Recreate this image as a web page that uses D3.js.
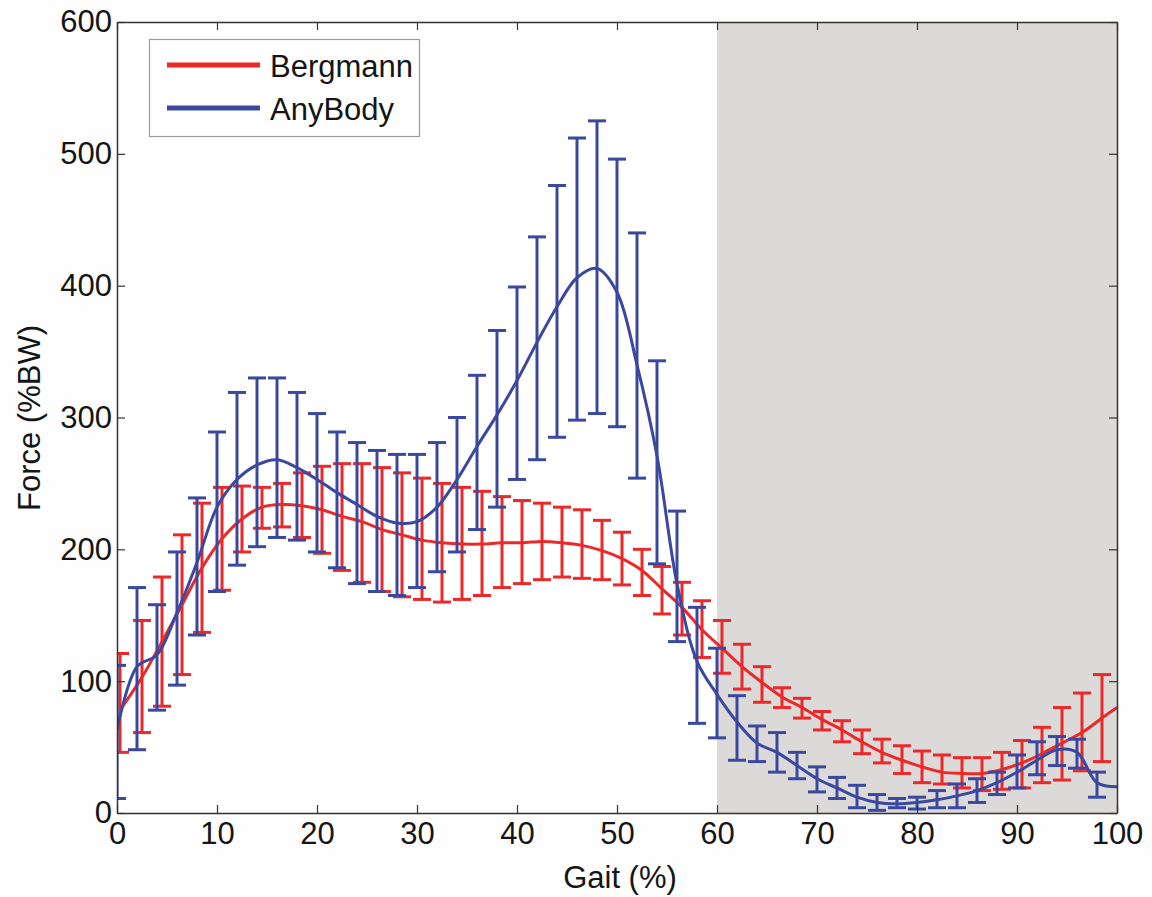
<!DOCTYPE html>
<html><head><meta charset="utf-8">
<script src="https://cdn.jsdelivr.net/npm/d3@7"></script>
<style>body{margin:0;background:#fefefe}text{font-family:"Liberation Sans",Arial,sans-serif;fill:#151515}</style>
</head><body><svg id="c" width="1152" height="897"></svg>
<script>
// ---- data ----
const anybodyGait = [0,2,4,6,8,10,12,14,16,18,20,22,24,26,28,30,32,34,36,38,40,42,44,46,48,50,52,54,56,58,60,62,64,66,68,70,72,74,76,78,80,82,84,86,88,90,92,94,96,98,100];
const bergmannGait = [0.3,2.5,4.5,6.5,8.5,10.5,12.5,14.5,16.5,18.5,20.5,22.5,24.5,26.5,28.5,30.5,32.5,34.5,36.5,38.5,40.5,42.5,44.5,46.5,48.5,50.5,52.5,54.5,56.5,58.5,60.5,62.5,64.5,66.5,68.5,70.5,72.5,74.5,76.5,78.5,80.5,82.5,84.5,86.5,88.5,90.5,92.5,94.5,96.5,98.5,100];
const bergmannMean = [78,103,130,158,186,208,223,232,234,233,230,225,221,215,211,207,205,204,204,205,205,206,205,203,199,193,184,170,156,139,125,111,99,88,80,71,63,54,46,40,35,31,30,30,33,38,45,53,61,72,80];
const bergmannHi = [121,146,179,211,235,247,248,247,250,258,263,265,265,262,258,254,250,247,244,240,237,235,232,230,222,213,200,187,175,161,146,128,111,95,87,77,70,63,56,51,47,44,42,42,46,55,65,80,91,105,null];
const bergmannLo = [46,61,81,105,137,169,198,216,217,209,197,184,175,168,164,162,160,162,165,171,174,177,179,178,177,173,165,151,135,118,106,94,84,80,72,63,54,45,38,30,23,22,19,17,18,19,23,25,32,39,null];
const anybodyMean = [63,111,120,152,190,232,253,264,268,262,253,243,234,225,220,221,232,253,278,302,328,357,384,406,413,395,340,271,174,115,90,69,53,46,36,26,19,12,8,7,8,10,13,17,23,31,40,48,46,23,20];
const anybodyHi = [112,171,158,198,239,289,319,330,330,319,303,289,281,275,272,272,281,300,332,366,399,437,476,512,525,496,440,343,229,156,125,89,66,61,46,35,27,21,14,11,12,17,22,26,31,44,54,58,56,31,null];
const anybodyLo = [11,48,78,97,135,168,188,202,209,207,198,186,174,168,165,171,183,198,215,232,253,268,285,298,303,293,254,189,130,68,57,40,39,31,26,16,11,4,2,4,3,4,4,8,14,19,29,36,34,12,null];
const xTicks = [0,10,20,30,40,50,60,70,80,90,100];
const yTicks = [0,100,200,300,400,500,600];
const shadedRange = [60,100];
const seriesNames = ["Bergmann","AnyBody"];

// ---- chart ----
const svg = d3.select("#c");
const x = d3.scaleLinear().domain([0,100]).range([117,1117]);
const y = d3.scaleLinear().domain([0,600]).range([813,22]);
const colors = {Bergmann:"#ec2828", AnyBody:"#3a48a0"};

svg.append("defs").append("clipPath").attr("id","plotclip").append("rect")
  .attr("x",x(0)).attr("y",y(600)-12).attr("width",x(100)-x(0)).attr("height",y(0)-y(600)+24);

svg.append("rect").attr("x",0).attr("y",0).attr("width",1152).attr("height",897).attr("fill","#fefefe");
svg.append("rect").attr("x",x(0)).attr("y",y(600)).attr("width",x(100)-x(0)).attr("height",y(0)-y(600)).attr("fill","#ffffff");
svg.append("rect").attr("x",x(shadedRange[0])).attr("y",y(600))
  .attr("width",x(shadedRange[1])-x(shadedRange[0])).attr("height",y(0)-y(600)).attr("fill","#dcdad8");

const series = [
  {name:"Bergmann", gait:bergmannGait, mean:bergmannMean, hi:bergmannHi, lo:bergmannLo},
  {name:"AnyBody", gait:anybodyGait, mean:anybodyMean, hi:anybodyHi, lo:anybodyLo}
];
const capW = 9;
const plot = svg.append("g").attr("clip-path","url(#plotclip)");
series.forEach(s => {
  const g = plot.append("g").attr("stroke", colors[s.name]).attr("stroke-width",3).attr("fill","none");
  const pts = s.gait.map((v,i)=>({x:v, m:s.mean[i], hi:s.hi[i], lo:s.lo[i]})).filter(d=>d.hi!=null);
  g.selectAll("line.v").data(pts).join("line").attr("class","v")
    .attr("x1",d=>x(d.x)).attr("x2",d=>x(d.x)).attr("y1",d=>y(d.hi)).attr("y2",d=>y(d.lo));
  g.selectAll("line.ct").data(pts).join("line").attr("class","ct")
    .attr("x1",d=>x(d.x)-capW).attr("x2",d=>x(d.x)+capW).attr("y1",d=>y(d.hi)).attr("y2",d=>y(d.hi));
  g.selectAll("line.cb").data(pts).join("line").attr("class","cb")
    .attr("x1",d=>x(d.x)-capW).attr("x2",d=>x(d.x)+capW).attr("y1",d=>y(d.lo)).attr("y2",d=>y(d.lo));
  const line = d3.line().x((d,i)=>x(s.gait[i])).y(d=>y(d)).curve(d3.curveCatmullRom.alpha(0.5));
  g.append("path").datum(s.mean).attr("d",line).attr("stroke-width",3).attr("stroke-linejoin","round");
});

// axes
const axStyle = g => { g.selectAll("path").attr("stroke","#333").attr("stroke-width",1.5);
  g.selectAll("line").attr("stroke","#333").attr("stroke-width",1.2);
  g.selectAll("text").style("font-size","31px").attr("fill","#151515"); g.attr("font-family",null).attr("font-size",null); };
svg.append("g").attr("transform",`translate(0,${y(0)})`)
  .call(d3.axisBottom(x).tickValues(xTicks).tickSizeInner(-8).tickSizeOuter(0).tickPadding(9)).call(axStyle);
svg.append("g").attr("transform",`translate(${x(0)},0)`)
  .call(d3.axisLeft(y).tickValues(yTicks).tickSizeInner(-8).tickSizeOuter(0).tickPadding(5)).call(axStyle);
svg.append("g").attr("transform",`translate(0,${y(600)})`)
  .call(d3.axisTop(x).tickValues(xTicks).tickSizeInner(-8).tickSizeOuter(0).tickFormat("")).call(axStyle);
svg.append("g").attr("transform",`translate(${x(100)},0)`)
  .call(d3.axisRight(y).tickValues(yTicks).tickSizeInner(-8).tickSizeOuter(0).tickFormat("")).call(axStyle);

// axis titles
svg.append("text").attr("x",(x(0)+x(100))/2+3).attr("y",888).attr("text-anchor","middle").style("font-size","31px").text("Gait (%)");
svg.append("text").attr("transform",`translate(40,${418}) rotate(-90)`).attr("text-anchor","middle").style("font-size","31px").text("Force (%BW)");

// legend
const lg = svg.append("g");
lg.append("rect").attr("x",149.5).attr("y",39.5).attr("width",270).attr("height",97).attr("fill","#fff").attr("stroke","#9a9a9a").attr("stroke-width",1.2);
seriesNames.forEach((n,i)=>{
  const yy = 65 + i*43;
  lg.append("line").attr("x1",167).attr("x2",260).attr("y1",yy).attr("y2",yy).attr("stroke",colors[n]).attr("stroke-width",5);
  lg.append("text").attr("x",270).attr("y",yy+12).style("font-size","31px").text(n);
});
</script></body></html>
